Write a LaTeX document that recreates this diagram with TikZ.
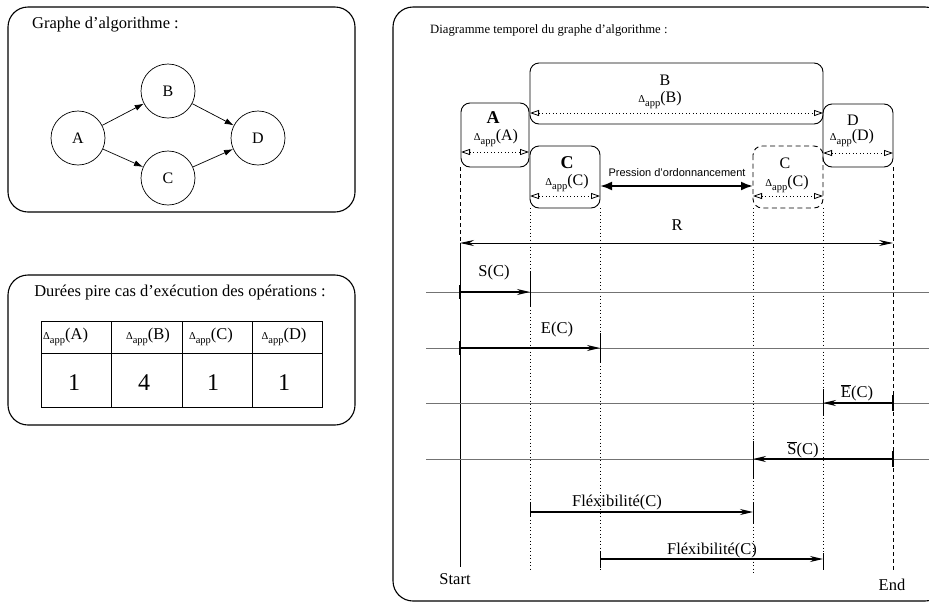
\documentclass[tikz,border=0pt]{standalone}
\usepackage{fontspec}
\setmainfont{Liberation Serif}
\newfontfamily\sansf{Liberation Sans}
\usetikzlibrary{arrows.meta}
\newcommand{\fs}[1]{\fontsize{#1}{#1}\selectfont}
\newcommand{\dap}[1]{{\fs{10.5}Δ\raisebox{-4.5pt}{app}}(#1)}
\tikzset{
  bigbox/.style={draw, line width=1.1pt, rounded corners=20pt},
  opbox/.style={draw, line width=0.9pt, rounded corners=9pt},
  circ/.style={circle, draw, minimum size=54pt, inner sep=0pt, line width=0.7pt, font=\fs{16}},
  garrow/.style={-{Latex[length=9pt,width=6pt]}, line width=0.7pt},
  durarrow/.style={{Triangle[open,length=9pt,width=6pt]}-{Triangle[open,length=9pt,width=6pt]}, dash pattern=on 1pt off 2.5pt, line width=0.8pt},
  tarrow/.style={-{Stealth[length=13pt,width=6pt]}, line width=1.4pt},
  thicktick/.style={line width=2.5pt},
  thintick/.style={line width=0.8pt},
  vdot/.style={dash pattern=on 1pt off 2.5pt, line width=0.8pt},
  vdash/.style={dash pattern=on 4pt off 3pt, line width=0.8pt},
  row/.style={draw=black!55, line width=1pt},
  lbl/.style={font=\fs{16.5}, inner sep=0pt},
  dlbl/.style={font=\fs{16}, inner sep=0pt},
}
\begin{document}
\begin{tikzpicture}[x=1pt,y=-1pt]
\useasboundingbox (0,0) rectangle (929,603);
% ---------- left box 1: graph
\draw[bigbox] (8,7) rectangle (355,212);
\node[lbl, anchor=west] (g1title) at (32,25) {Graphe d’algorithme :};
\node[circ] (A) at (78,138) {A};
\node[circ] (B) at (168,91) {B};
\node[circ] (C) at (168,178) {C};
\node[circ] (D) at (258,138) {D};
\draw[garrow] (A) -- (B);
\draw[garrow] (A) -- (C);
\draw[garrow] (B) -- (D);
\draw[garrow] (C) -- (D);
% ---------- left box 2: table
\draw[bigbox] (8,275) rectangle (355,425);
\node[lbl] (g2title) at (180,293) {Durées pire cas d’exécution des opérations :};
\draw[line width=1pt] (41,321) rectangle (322,407);
\draw[line width=1pt] (41,353) -- (322,353);
\draw[line width=1pt] (111,321) -- (111,407);
\draw[line width=1pt] (182,321) -- (182,407);
\draw[line width=1pt] (252,321) -- (252,407);
\node[lbl, anchor=west] (h1) at (43,337) {\dap{A}};
\node[lbl] (h2) at (148,337) {\dap{B}};
\node[lbl] (h3) at (211,337) {\dap{C}};
\node[lbl] (h4) at (284,337) {\dap{D}};
\node[font=\fs{24}, inner sep=0pt] (v1) at (74,383) {1};
\node[font=\fs{24}, inner sep=0pt] (v2) at (144,383) {4};
\node[font=\fs{24}, inner sep=0pt] (v3) at (213,383) {1};
\node[font=\fs{24}, inner sep=0pt] (v4) at (284,383) {1};
% ---------- right box: timeline
\begin{scope}
\clip (0,0) rectangle (929,603);
\draw[bigbox] (393,7) rectangle (945,601);
\end{scope}
\node[font=\fs{12.7}, anchor=west, inner sep=0pt] (rtitle) at (430,30) {Diagramme temporel du graphe d’algorithme :};
% vertical guide lines
\draw[vdash] (460,167) -- (460,243);
\draw[line width=0.8pt] (460,243) -- (460,567);
\draw[vdash] (893,167) -- (893,570);
\draw[vdot] (530,208) -- (530,570);
\draw[vdot] (600,208) -- (600,570);
\draw[vdot] (753,208) -- (753,573);
\draw[vdot] (823,208) -- (823,570);
% operation boxes
\draw[opbox] (530,63) rectangle (823,124);
\draw[opbox] (461,103) rectangle (529,167);
\draw[opbox] (530,146) rectangle (600,208);
\draw[opbox, dash pattern=on 5pt off 3.5pt] (753,146) rectangle (823,208);
\draw[opbox] (823,104) rectangle (893,167);
% box A
\node[font=\fs{18}\bfseries, inner sep=0pt] (la) at (493,118) {A};
\node[dlbl] (da) at (496,138) {\dap{A}};
\coordinate (a1) at (461,152); \coordinate (a2) at (529,152);
\draw[durarrow] (a1) -- (a2);
% box B
\node[dlbl] (lb) at (665,80) {B};
\node[dlbl] (db) at (660,100) {\dap{B}};
\coordinate (b1) at (530,113); \coordinate (b2) at (823,113);
\draw[durarrow] (b1) -- (b2);
% box C
\node[font=\fs{18}\bfseries, inner sep=0pt] (lc) at (567,163) {C};
\node[dlbl] (dc) at (567,183) {\dap{C}};
\coordinate (c1) at (530,196); \coordinate (c2) at (600,196);
\draw[durarrow] (c1) -- (c2);
% box C (late)
\node[dlbl] (lc2) at (785,163) {C};
\node[dlbl] (dc2) at (787,184) {\dap{C}};
\coordinate (d1) at (753,196); \coordinate (d2) at (823,196);
\draw[durarrow] (d1) -- (d2);
% box D
\node[dlbl] (ld) at (853,120) {D};
\node[dlbl] (dd) at (852,138) {\dap{D}};
\coordinate (e1) at (823,153); \coordinate (e2) at (893,153);
\draw[durarrow] (e1) -- (e2);
% pression
\coordinate (p1) at (600,186); \coordinate (p2) at (753,186);
\draw[{Latex[length=12pt,width=9pt]}-{Latex[length=12pt,width=9pt]}, line width=2.2pt] (p1) -- (p2);
\node[font=\sansf\fs{11}, inner sep=0pt] (pl) at (677,173) {Pression d’ordonnancement};
% R
\coordinate (r1) at (460,243); \coordinate (r2) at (893,243);
\draw[{Stealth[length=14pt,width=6pt]}-{Stealth[length=14pt,width=6pt]}, line width=0.9pt] (r1) -- (r2);
\node[lbl] (rl) at (677,225) {R};
% rows
\foreach \yy in {292,348,403,459} { \draw[row] (426,\yy) -- (929,\yy); }
% S(C)
\coordinate (s0) at (460,292); \coordinate (s1) at (530,292);
\draw[tarrow] (s0) -- (s1);
\draw[thicktick] (460,285) -- (460,299);
\draw[thintick] (530,272) -- (530,307);
\node[lbl] (sl) at (494,273) {S(C)};
% E(C)
\coordinate (e0) at (460,348); \coordinate (eE) at (600,348);
\draw[tarrow] (e0) -- (eE);
\draw[thicktick] (460,341) -- (460,355);
\draw[thintick] (600,333) -- (600,362);
\node[lbl] (el) at (557,330) {E(C)};
% Ebar(C)
\coordinate (f0) at (893,403); \coordinate (f1) at (823,403);
\draw[tarrow] (f0) -- (f1);
\draw[thicktick] (893,395) -- (893,411);
\draw[thintick] (823,389) -- (823,415);
\node[lbl] (fl) at (857,393) {$\overline{\hbox{E}}$(C)};
% Sbar(C)
\coordinate (g0) at (893,459); \coordinate (g1) at (753,459);
\draw[tarrow] (g0) -- (g1);
\draw[thicktick] (893,451) -- (893,467);
\draw[thintick] (753,441) -- (753,478);
\node[lbl] (gl) at (803,450) {$\overline{\hbox{S}}$(C)};
% Flexibilite 1
\coordinate (h0) at (530,512); \coordinate (h1) at (753,512);
\draw[tarrow] (h0) -- (h1);
\draw[thintick] (530,502) -- (530,517);
\draw[thintick] (753,502) -- (753,523);
\node[lbl] (hl) at (617,503) {Fléxibilité(C)};
% Flexibilite 2
\coordinate (k0) at (600,559); \coordinate (k1) at (823,559);
\draw[tarrow] (k0) -- (k1);
\draw[thintick] (600,552) -- (600,568);
\draw[thintick] (823,553) -- (823,569);
\node[lbl] (kl) at (712,551) {Fléxibilité(C)};
% start / end
\node[lbl] (start) at (455,579) {Start};
\node[lbl] (end) at (892,585) {End};
\end{tikzpicture}
\end{document}
